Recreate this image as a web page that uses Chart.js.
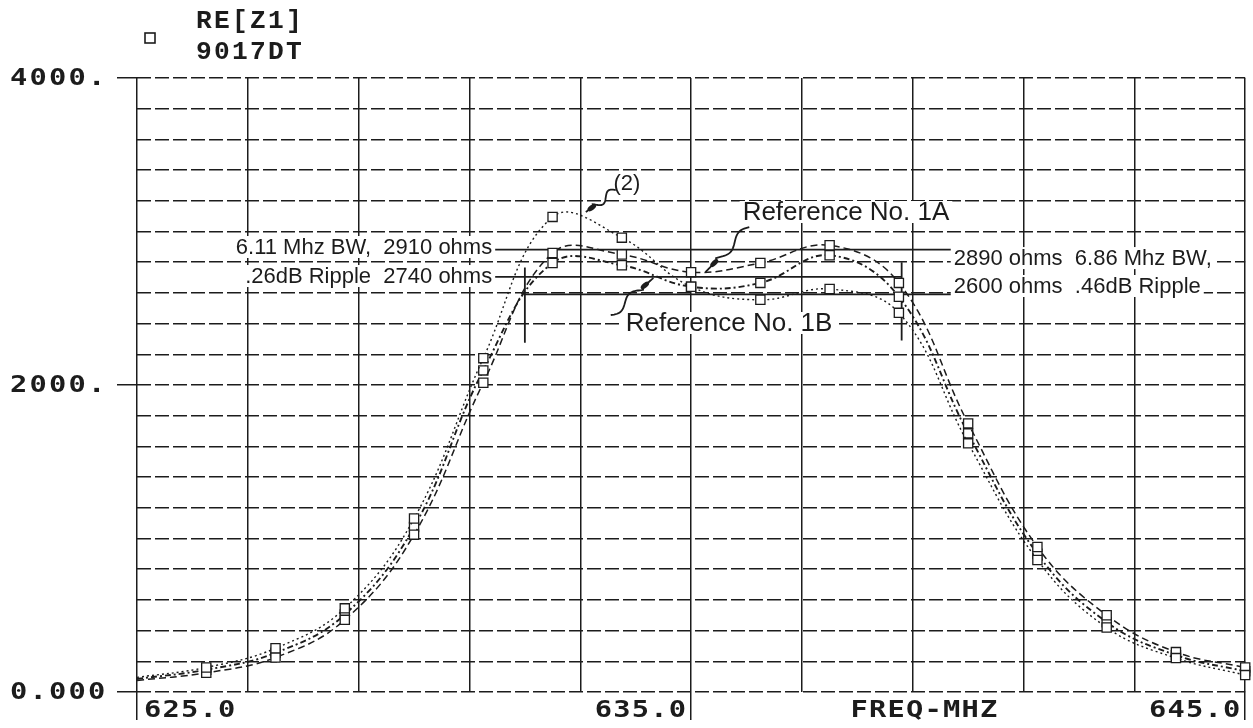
<!DOCTYPE html>
<html lang="en">
<head>
<meta charset="UTF-8">
<title>RE[Z1] 9017DT</title>
<script src="https://cdn.jsdelivr.net/npm/chart.js"></script>
<style>
  html, body { margin: 0; padding: 0; background: #fff; }
  #wrap { width: 1253px; height: 728px; }
</style>
</head>
<body>
<div id="wrap"><canvas id="chart"></canvas></div>
<script>
// sweep points (MHz)
const freqs = [625, 626.25, 627.5, 628.75, 630, 631.25, 632.5, 633.75, 635,
               636.25, 637.5, 638.75, 640, 641.25, 642.5, 643.75, 645];
// RE[Z1] in ohms
const curve2 = [95, 160, 285, 545, 1130, 2175, 3095, 2960, 2640, 2555, 2625, 2470, 1620, 860, 420, 221, 110];
const ref1A  = [75, 125, 225, 470, 1025, 2015, 2860, 2850, 2735, 2795, 2910, 2665, 1750, 945, 500, 260, 160];
const ref1B  = [85, 145, 255, 505, 1075, 2095, 2795, 2780, 2640, 2665, 2845, 2575, 1685, 900, 455, 240, 135];

// axis labels
const xTickValues = [625, 635, 645];
const xTickLabels = ['625.0', '635.0', '645.0'];
const xTitle = 'FREQ-MHZ';
const yTickValues = [0, 2000, 4000];
const yTickLabels = ['0.000', '2000.', '4000.'];
const legendLines = ['RE[Z1]', '9017DT'];

// hand drawn marks: [ohms, from MHz, to MHz] and [MHz, from ohms, to ohms]
const levelLines = [[2882, 631.4, 639.7], [2705, 631.4, 638.8], [2590, 632.0, 639.7]];
const edgeLines = [[632.0, 2275, 2765], [638.8, 2290, 2800]];

// notes: [text, MHz, ohms]
const notes = [
  ['(2)', 633.6, 3316],
  ['Reference No. 1A', 635.93, 3127],
  ['Reference No. 1B', 633.82, 2404],
  ['6.11 Mhz BW,  2910 ohms', 631.41, 2899],
  ['.26dB Ripple  2740 ohms', 631.41, 2710],
  ['2890 ohms  6.86 Mhz BW,', 639.74, 2827],
  ['2600 ohms  .46dB Ripple', 639.74, 2645]
];
// leader squiggles: [from MHz, from ohms, to MHz, to ohms]
const leaders = [
  [633.64, 3270, 633.1, 3127],
  [636.05, 3029, 635.26, 2736],
  [633.55, 2456, 634.32, 2697]
];

const ink = '#1c1c1c';
const monoFont = 'bold 23px "DejaVu Sans Mono"';
const legendFont = 'bold 25px "Liberation Mono"';

// plotter style text: fixed pitch cells, glyphs stretched sideways
function plotText(ctx, text, x, y, pitch, sx, align) {
  const glyph = ctx.measureText('0').width * sx;
  const total = (text.length - 1) * pitch + glyph;
  let left = x;
  if (align === 'right') left = x - total;
  if (align === 'center') left = x - total / 2;
  ctx.textAlign = 'center';
  for (let i = 0; i < text.length; i++) {
    ctx.save();
    ctx.translate(left + i * pitch + glyph / 2, y);
    ctx.scale(sx, 1);
    ctx.fillText(text[i], 0, 0);
    ctx.restore();
  }
}

function squiggle(ctx, x1, y1, x2, y2) {
  const dx = x2 - x1, dy = y2 - y1;
  const len = Math.hypot(dx, dy);
  const nx = -dy / len, ny = dx / len;
  ctx.beginPath();
  for (let i = 0; i <= 40; i++) {
    const t = i / 40;
    const amp = t < 0.75 ? 4 * Math.sin(t * Math.PI * 3) : 0;
    const px = x1 + dx * t + nx * amp;
    const py = y1 + dy * t + ny * amp;
    if (i === 0) ctx.moveTo(px, py); else ctx.lineTo(px, py);
  }
  ctx.lineWidth = 1.8;
  ctx.stroke();
  // blob of an arrow head
  const hx = x1 + dx * 0.8, hy = y1 + dy * 0.8;
  ctx.beginPath();
  ctx.ellipse(hx, hy, 5, 2.5, Math.atan2(dy, dx), 0, Math.PI * 2);
  ctx.fill();
}

const decor = {
  id: 'decor',
  afterDraw(chart) {
    const ctx = chart.ctx;
    const xs = chart.scales.x, ys = chart.scales.y;
    ctx.save();
    ctx.fillStyle = ink;
    ctx.strokeStyle = ink;
    ctx.textBaseline = 'middle';

    // legend
    ctx.lineWidth = 1.6;
    ctx.strokeRect(145, 33, 10, 10);
    ctx.font = legendFont;
    plotText(ctx, legendLines[0], 196, 22, 18, 1.05, 'left');
    plotText(ctx, legendLines[1], 196, 53, 18, 1.05, 'left');

    // axis labels
    ctx.font = monoFont;
    yTickValues.forEach((v, i) => {
      plotText(ctx, yTickLabels[i], 10, ys.getPixelForValue(v) + 1, 19.5, 1.25, 'left');
    });
    const by = chart.chartArea.bottom + 19;
    plotText(ctx, xTickLabels[0], xs.getPixelForValue(xTickValues[0]) + 7, by, 18.5, 1.25, 'left');
    plotText(ctx, xTickLabels[1], xs.getPixelForValue(xTickValues[1]) - 5, by, 18.5, 1.25, 'right');
    plotText(ctx, xTickLabels[2], xs.getPixelForValue(xTickValues[2]) - 5, by, 18.5, 1.25, 'right');
    plotText(ctx, xTitle, xs.getPixelForValue(639.2), by, 18.5, 1.25, 'center');

    // notes with a white knockout behind them
    notes.forEach(([text, f, v]) => {
      const big = text.startsWith('Reference');
      ctx.font = (big ? '26px' : '22px') + ' "Liberation Sans"';
      const w = ctx.measureText(text).width;
      const x = xs.getPixelForValue(f);
      const y = ys.getPixelForValue(v);
      const right = f < 632 && !big && text !== '(2)';
      const left = right ? x - w : x;
      ctx.fillStyle = '#fff';
      ctx.fillRect(left - 3, y - 11, w + 6, 22);
      ctx.fillStyle = ink;
      ctx.textAlign = 'left';
      ctx.fillText(text, left, y + 1);
    });

    leaders.forEach(([f1, v1, f2, v2]) => {
      squiggle(ctx, xs.getPixelForValue(f1), ys.getPixelForValue(v1),
               xs.getPixelForValue(f2), ys.getPixelForValue(v2));
    });
    ctx.restore();
  }
};

const curves = [
  {label: '(2)', values: curve2, dash: [2, 3], width: 1.4},
  {label: 'Reference No. 1A', values: ref1A, dash: [7, 4], width: 1.5},
  {label: 'Reference No. 1B', values: ref1B, dash: [6, 3, 2, 3], width: 1.9}
];

const datasets = curves.map(c => ({
  label: c.label,
  data: freqs.map((f, i) => ({x: f, y: c.values[i]})),
  borderColor: ink,
  borderWidth: c.width,
  borderDash: c.dash,
  tension: 0.4,
  pointStyle: 'rect',
  pointRadius: ctx => ctx.dataIndex === 0 ? 0 : 6.5,
  pointBackgroundColor: '#fff',
  pointBorderColor: ink,
  pointBorderWidth: 1.3,
  clip: false
}));

levelLines.forEach(([v, f1, f2]) => datasets.push({
  data: [{x: f1, y: v}, {x: f2, y: v}],
  borderColor: ink, borderWidth: 1.8, pointRadius: 0, tension: 0
}));
edgeLines.forEach(([f, v1, v2]) => datasets.push({
  data: [{x: f, y: v1}, {x: f, y: v2}],
  borderColor: ink, borderWidth: 1.8, pointRadius: 0, tension: 0
}));

new Chart(document.getElementById('chart'), {
  type: 'line',
  data: {datasets: datasets},
  options: {
    responsive: true,
    maintainAspectRatio: false,
    animation: false,
    layout: {padding: {top: 78, right: 5, left: 0, bottom: 0}},
    plugins: {legend: {display: false}, tooltip: {enabled: false}},
    scales: {
      x: {
        type: 'linear', min: 625, max: 645,
        ticks: {stepSize: 2, display: false},
        grid: {
          color: ink, lineWidth: 1.5, tickLength: 28,
          tickColor: ctx => xTickValues.includes(ctx.tick.value) ? ink : 'rgba(0,0,0,0)'
        },
        border: {display: false},
        afterFit: s => { s.height = 36; }
      },
      y: {
        min: 0, max: 4000,
        ticks: {stepSize: 200, display: false},
        grid: {
          color: ink, lineWidth: 1.5, tickLength: 20,
          tickColor: ctx => yTickValues.includes(ctx.tick.value) ? ink : 'rgba(0,0,0,0)'
        },
        border: {display: false, dash: [14, 4]},
        afterFit: s => { s.width = 137; }
      }
    }
  },
  plugins: [decor]
});
</script>
</body>
</html>
